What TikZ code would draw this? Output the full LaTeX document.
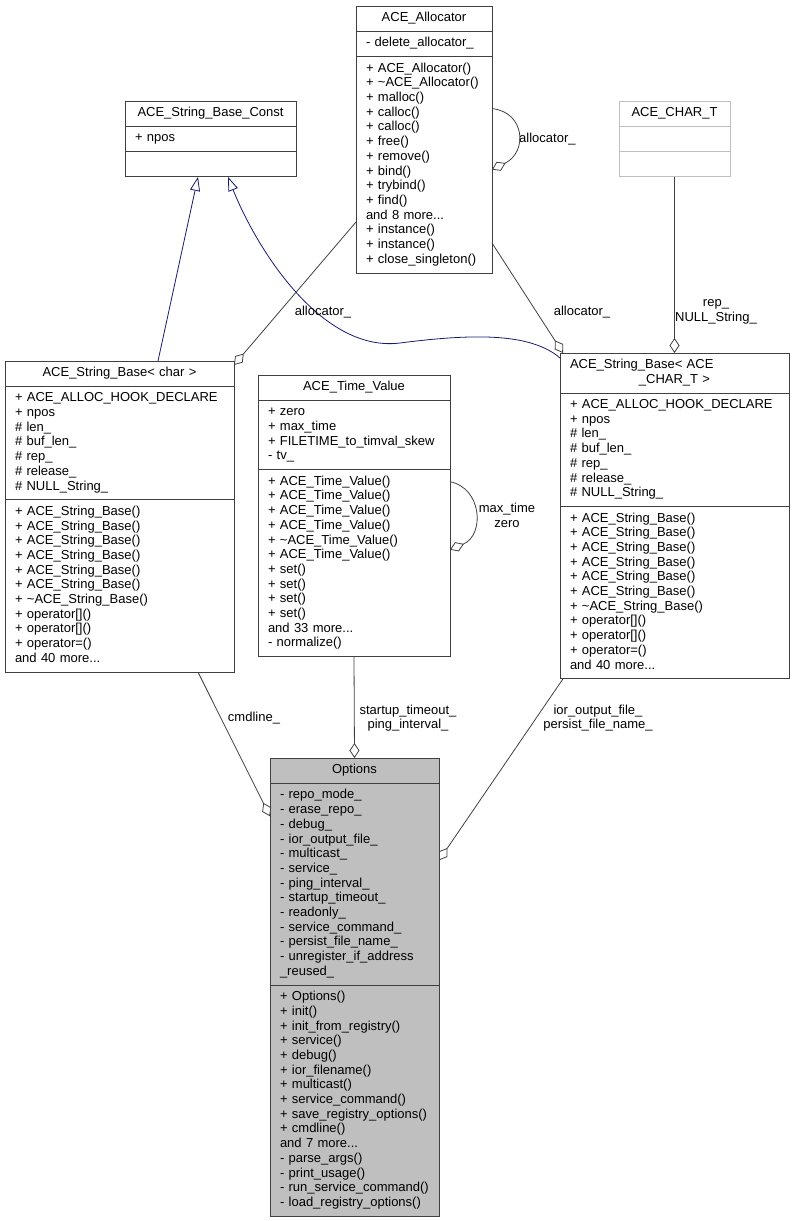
\documentclass[tikz,border=0pt]{standalone}
\usepackage{fontspec}
\setmainfont{Liberation Sans}
\usetikzlibrary{arrows.meta,positioning}
\definecolor{boxline}{HTML}{404040}
\definecolor{edgeline}{HTML}{404040}
\definecolor{inheritline}{HTML}{191970}
\definecolor{optionsfill}{HTML}{BFBFBF}
\definecolor{templateline}{HTML}{BFBFBF}
\def\umlfont{\fontsize{13}{14.7}\selectfont}
\tikzset{
	part/.style={draw=boxline, line width=0.9pt, fill=white, outer sep=0pt, inner xsep=10pt, inner ysep=5.3pt, font=\umlfont},
	clshead/.style={part, align=center, anchor=north west, execute at begin node=\strut, execute at end node=\strut},
	clsbody/.style={part, align=left, execute at begin node={\rightskip=0pt plus 1fil minus 40pt\strut}, execute at end node=\strut},
	lbl/.style={font=\umlfont, inner sep=0pt, align=center},
	aggr/.style={draw=edgeline, line width=0.8pt, -{Diamond[length=15pt,width=10pt,fill=white]}},
	inh/.style={draw=inheritline, line width=0.8pt, -{Triangle[length=14pt,width=10pt,fill=white]}}
}

\begin{document}
\begin{tikzpicture}[x=1pt,y=-1pt]
	%%%%% START %%%%%
	\useasboundingbox (0,0) rectangle (795,1221);
	
	\node[clshead, text width=151pt] (cnst) at (125,101) {ACE\_String\_Base\_Const};
	\node[clsbody, text width=151pt, below=0pt of cnst] (cnst-a) {+ npos};
	\node[clsbody, text width=151pt, below=0pt of cnst-a] (cnst-m) {};
	
	\node[clshead, text width=116pt] (alloc) at (356,6) {ACE\_Allocator};
	\node[clsbody, text width=116pt, below=0pt of alloc] (alloc-a) {- delete\_allocator\_};
	\node[clsbody, text width=116pt, below=0pt of alloc-a] (alloc-m) {+ ACE\_Allocator()\\+ \textasciitilde ACE\_Allocator()\\+ malloc()\\+ calloc()\\+ calloc()\\+ free()\\+ remove()\\+ bind()\\+ trybind()\\+ find()\\and 8 more...\\+ instance()\\+ instance()\\+ close\_singleton()};
	
	\node[clshead, text width=91pt, draw=templateline] (chart) at (619,101) {ACE\_CHAR\_T};
	\node[clsbody, text width=91pt, draw=templateline, below=0pt of chart] (chart-a) {};
	\node[clsbody, text width=91pt, draw=templateline, below=0pt of chart-a] (chart-m) {};
	
	\node[clshead, text width=209pt] (sbchar) at (5,361) {ACE\_String\_Base< char >};
	\node[clsbody, text width=209pt, below=0pt of sbchar] (sbchar-a) {+ ACE\_ALLOC\_HOOK\_DECLARE\\+ npos\\\# len\_\\\# buf\_len\_\\\# rep\_\\\# release\_\\\# NULL\_String\_};
	\node[clsbody, text width=209pt, below=0pt of sbchar-a] (sbchar-m) {+ ACE\_String\_Base()\\+ ACE\_String\_Base()\\+ ACE\_String\_Base()\\+ ACE\_String\_Base()\\+ ACE\_String\_Base()\\+ ACE\_String\_Base()\\+ \textasciitilde ACE\_String\_Base()\\+ operator[]()\\+ operator[]()\\+ operator=()\\and 40 more...};
	
	\node[clshead, text width=172pt] (tval) at (258,375) {ACE\_Time\_Value};
	\node[clsbody, text width=172pt, below=0pt of tval] (tval-a) {+ zero\\+ max\_time\\+ FILETIME\_to\_timval\_skew\\- tv\_};
	\node[clsbody, text width=172pt, below=0pt of tval-a] (tval-m) {+ ACE\_Time\_Value()\\+ ACE\_Time\_Value()\\+ ACE\_Time\_Value()\\+ ACE\_Time\_Value()\\+ \textasciitilde ACE\_Time\_Value()\\+ ACE\_Time\_Value()\\+ set()\\+ set()\\+ set()\\+ set()\\and 33 more...\\- normalize()};
	
	\node[clshead, text width=209pt] (sbct) at (560,353) {\makebox[\linewidth][l]{ACE\_String\_Base< ACE}\\\_CHAR\_T >};
	\node[clsbody, text width=209pt, below=0pt of sbct] (sbct-a) {+ ACE\_ALLOC\_HOOK\_DECLARE\\+ npos\\\# len\_\\\# buf\_len\_\\\# rep\_\\\# release\_\\\# NULL\_String\_};
	\node[clsbody, text width=209pt, below=0pt of sbct-a] (sbct-m) {+ ACE\_String\_Base()\\+ ACE\_String\_Base()\\+ ACE\_String\_Base()\\+ ACE\_String\_Base()\\+ ACE\_String\_Base()\\+ ACE\_String\_Base()\\+ \textasciitilde ACE\_String\_Base()\\+ operator[]()\\+ operator[]()\\+ operator=()\\and 40 more...};
	
	\node[clshead, text width=149pt, fill=optionsfill] (opts) at (270,758) {Options};
	\node[clsbody, text width=149pt, fill=optionsfill, below=0pt of opts] (opts-a) {- repo\_mode\_\\- erase\_repo\_\\- debug\_\\- ior\_output\_file\_\\- multicast\_\\- service\_\\- ping\_interval\_\\- startup\_timeout\_\\- readonly\_\\- service\_command\_\\- persist\_file\_name\_\\- unregister\_if\_address\\\_reused\_};
	\node[clsbody, text width=149pt, fill=optionsfill, below=0pt of opts-a] (opts-m) {+ Options()\\+ init()\\+ init\_from\_registry()\\+ service()\\+ debug()\\+ ior\_filename()\\+ multicast()\\+ service\_command()\\+ save\_registry\_options()\\+ cmdline()\\and 7 more...\\- parse\_args()\\- print\_usage()\\- run\_service\_command()\\- load\_registry\_options()};
	
	\draw[inh] ([xshift=153pt]sbchar.north west) -- ([xshift=73pt]cnst-m.south west);
	\draw[inh] ([yshift=-5pt]sbct.north west) .. controls (530,332) and (470,334) .. (400,343) .. controls (320,353) and (255,245) .. ([xshift=103pt]cnst-m.south west);
	\draw[aggr] ([yshift=51pt]alloc-m.south west) -- ([yshift=-4pt]sbchar.north east);
	\draw[aggr] ([yshift=-52pt]alloc-m.north east) .. controls (525,112) and (528,152) .. ([yshift=-113pt]alloc-m.north east);
	\draw[aggr] ([yshift=30pt]alloc-m.south east) -- ([xshift=3pt]sbct.north west);
	\draw[aggr] (chart-m.south) -- (sbct.north);
	\draw[aggr] ([yshift=-12pt]tval-m.north east) .. controls (482,488) and (485,535) .. ([yshift=-80pt]tval-m.north east);
	\draw[aggr] ([xshift=193pt]sbchar-m.south west) -- ([yshift=-33pt]opts-a.north west);
	\draw[aggr] (tval-m.south) -- (opts.north);
	\draw[aggr] ([xshift=3pt]sbct-m.south west) -- ([yshift=-77pt]opts-a.north east);
	
	\node[lbl] (lbl-alloc1) at (323,312) {allocator\_};
	\node[lbl, anchor=west] (lbl-alloc2) at (519,139) {allocator\_};
	\node[lbl] (lbl-alloc3) at (582,312) {allocator\_};
	\node[lbl] (lbl-rep) at (716,312) {rep\_\\NULL\_String\_};
	\node[lbl] (lbl-time) at (507,515) {max\_time\\zero};
	\node[lbl] (lbl-cmd) at (254,718) {cmdline\_};
	\node[lbl] (lbl-ping) at (408,718) {startup\_timeout\_\\ping\_interval\_};
	\node[lbl] (lbl-ior) at (598,718) {ior\_output\_file\_\\persist\_file\_name\_};
	
	%%%%% END %%%%%
\end{tikzpicture}
\end{document}
